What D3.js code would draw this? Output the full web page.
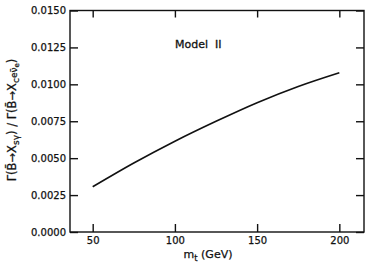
<!DOCTYPE html>
<html><head><meta charset="utf-8">
<script src="https://cdn.jsdelivr.net/npm/d3@7"></script>
<style>html,body{margin:0;padding:0;background:#fff}svg{display:block}</style>
</head><body>
<script>
const mtValues = [50, 75, 100, 125, 150, 175, 200];
const ratioValues = [0.00306, 0.00467, 0.00615, 0.00750, 0.00876, 0.00986, 0.01079];
const xTicks = [50, 100, 150, 200];
const yTicks = [0, 0.0025, 0.005, 0.0075, 0.01, 0.0125, 0.015];
const modelLabel = "Model  II";

(function () {
const W = 371, H = 263;
const pL = 70, pR = 364, pT = 10.5, pB = 232;
const svg = d3.select("body").append("svg").attr("width", W).attr("height", H);
const x = d3.scaleLinear().domain([36.2, 215]).range([pL, pR]);
const y = d3.scaleLinear().domain([0, 0.015]).range([pB, pT]);
const font = "DejaVu Sans, sans-serif";
const ink = "#111";

svg.append("rect").attr("x", pL).attr("y", pT).attr("width", pR - pL).attr("height", pB - pT)
  .attr("fill", "none").attr("stroke", ink).attr("stroke-width", 1.4);

const fmtY = d => d3.format(".4f")(d);
const gB = svg.append("g").attr("transform", `translate(0,${pB})`)
  .call(d3.axisBottom(x).tickValues(xTicks).tickSize(-8).tickPadding(5).tickFormat(d3.format("d")));
const gT = svg.append("g").attr("transform", `translate(0,${pT})`)
  .call(d3.axisTop(x).tickValues(xTicks).tickSize(-7).tickFormat(""));
const gL = svg.append("g").attr("transform", `translate(${pL},0)`)
  .call(d3.axisLeft(y).tickValues(yTicks).tickSize(-8).tickPadding(4).tickFormat(fmtY));
const gR = svg.append("g").attr("transform", `translate(${pR},0)`)
  .call(d3.axisRight(y).tickValues(yTicks).tickSize(-8).tickFormat(""));
[gB, gT, gL, gR].forEach(g => {
  g.select(".domain").remove();
  g.selectAll(".tick line").attr("stroke", ink).attr("stroke-width", 1.4);
  g.selectAll(".tick text").attr("fill", ink).attr("font-family", font).attr("font-size", 10)
    .attr("stroke", ink).attr("stroke-width", 0.25);
});

const line = d3.line().x((d, i) => x(mtValues[i])).y(d => y(d)).curve(d3.curveMonotoneX);
svg.append("path").datum(ratioValues).attr("d", line).attr("fill", "none")
  .attr("stroke", ink).attr("stroke-width", 1.6);

svg.append("text").attr("x", 175).attr("y", 48).attr("font-family", font).attr("font-size", 11)
  .attr("fill", ink).attr("stroke", ink).attr("stroke-width", 0.3)
  .attr("xml:space", "preserve").text(modelLabel);

const xl = svg.append("text").attr("x", 208).attr("y", 258).attr("text-anchor", "middle")
  .attr("font-family", font).attr("font-size", 11).attr("fill", ink)
  .attr("stroke", ink).attr("stroke-width", 0.25);
xl.append("tspan").text("m");
xl.append("tspan").attr("font-size", 8.5).attr("dy", 2.5).text("t");
xl.append("tspan").attr("dy", -2.5).text(" (GeV)");

const yl = svg.append("text").attr("transform", `translate(16,120) rotate(-90)`).attr("text-anchor", "middle")
  .attr("font-family", font).attr("font-size", 11.5).attr("fill", ink)
  .attr("stroke", ink).attr("stroke-width", 0.25);
yl.append("tspan").text("Γ(B\u0304→X");
yl.append("tspan").attr("font-size", 9).attr("dy", 2.5).text("sγ");
yl.append("tspan").attr("dy", -2.5).text(")  /  Γ(B\u0304→X");
yl.append("tspan").attr("font-size", 9).attr("dy", 2.5).text("c");
yl.append("tspan").attr("font-size", 9).attr("dy", -1.5).text("eν\u0304");
yl.append("tspan").attr("font-size", 7).attr("dy", 2).text("e");
yl.append("tspan").attr("dy", -3).text(")");
})();
</script>
</body></html>
